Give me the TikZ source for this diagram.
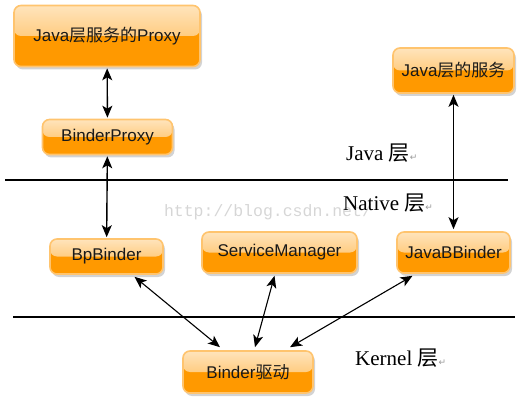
\documentclass[tikz,border=0pt]{standalone}
\usepackage{fontspec}
\setmainfont{Liberation Sans}
\newfontfamily\cjk{Noto Sans CJK SC}
\newfontfamily\layerfont{Liberation Serif}
\newfontfamily\markfont{DejaVu Sans}
\newfontfamily\wmfont{Liberation Mono}
\usepackage{tikz}
\usetikzlibrary{positioning}
\usetikzlibrary{shadows}
\usetikzlibrary{arrows.meta}

\definecolor{boxorange}{HTML}{FF9900}
\definecolor{boxtop}{HTML}{FFE4BC}
\definecolor{boxmid}{HTML}{FFB547}
\definecolor{boxline}{HTML}{FFC46E}
\definecolor{retmark}{HTML}{9A9A9A}
\definecolor{wmgray}{HTML}{D6D6D6}

\newcommand{\ret}{{\markfont\fontsize{9}{9}\selectfont\textcolor{retmark}{↵}}}

\begin{document}
\begin{tikzpicture}[x=1pt,y=1pt]
			\tikzstyle{BoxStyle} = [rounded corners=7pt, draw=boxline, line width=1.6pt, fill=boxorange, inner sep=0pt,
				font=\fontsize{17}{17}\selectfont, text=black!90,
				drop shadow={shadow xshift=2pt, shadow yshift=-3pt, opacity=.35},
				path picture={\fill[top color=boxtop, bottom color=boxmid]
					(path picture bounding box.north west) rectangle (path picture bounding box.east);}]
			\tikzstyle{EdgeStyle}  = [{Stealth[length=12pt,width=10pt,inset=3pt]}-{Stealth[length=12pt,width=10pt,inset=3pt]}, line width=1.1pt]
			\tikzstyle{LayerStyle} = [anchor=west, inner sep=0pt, font=\layerfont\fontsize{21}{21}\selectfont]
			\useasboundingbox (0,0) rectangle (522,405);
			% watermark
			\node[text=wmgray, font=\wmfont\fontsize{16.5}{16.5}\selectfont] (wm) at (268,193) {http://blog.csdn.net/};
			% layer borders
			\draw[line width=1.4pt] (5,225) -- (508,225);
			\draw[line width=1.4pt] (13,88) -- (515,88);
			\node[LayerStyle] (java)   at (346,252) {Java {\cjk 层}\ret};
			\node[LayerStyle] (native) at (343,202) {Native {\cjk 层}\ret};
			\node[LayerStyle] (kernel) at (355,47)  {Kernel {\cjk 层}\ret};
			% boxes
			\node[BoxStyle, minimum width=186, minimum height=61] (proxy)          at (107,369)   {Java{\cjk 层服务的}Proxy};
			\node[BoxStyle, minimum width=130, minimum height=35] (binderproxy)    at (107.5,268) {BinderProxy};
			\node[BoxStyle, minimum width=121, minimum height=45] (javaservice)    at (453.5,334.5) {Java{\cjk 层的服务}};
			\node[BoxStyle, minimum width=113, minimum height=35] (bpbinder)       at (106.5,148.5) {BpBinder};
			\node[BoxStyle, minimum width=155, minimum height=41] (servicemanager) at (279.5,152.5) {ServiceManager};
			\node[BoxStyle, minimum width=113, minimum height=41] (javabbinder)    at (453.5,152.5) {JavaBBinder};
			\node[BoxStyle, minimum width=130, minimum height=42] (driver)         at (248,33)    {Binder{\cjk 驱动}};
			% connections
			\draw[EdgeStyle, line width=1.4pt, shorten <=1pt, shorten >=1pt] (proxy) -- (binderproxy);
			\draw[EdgeStyle, line width=1.4pt, shorten <=1pt, shorten >=1pt] (binderproxy) -- (bpbinder);
			\draw[EdgeStyle, line width=1.4pt, shorten <=1pt, shorten >=2pt] (javaservice) -- (javabbinder);
			\draw[EdgeStyle] ([xshift=28pt,yshift=-2pt]bpbinder.south) -- ([xshift=-28pt,yshift=3pt]driver.north);
			\draw[EdgeStyle] ([xshift=-5pt,yshift=-2pt]servicemanager.south) -- ([xshift=7pt,yshift=3pt]driver.north);
			\draw[EdgeStyle] ([xshift=-41pt,yshift=-2pt]javabbinder.south) -- ([xshift=42pt,yshift=3pt]driver.north);
\end{tikzpicture}
\end{document}
